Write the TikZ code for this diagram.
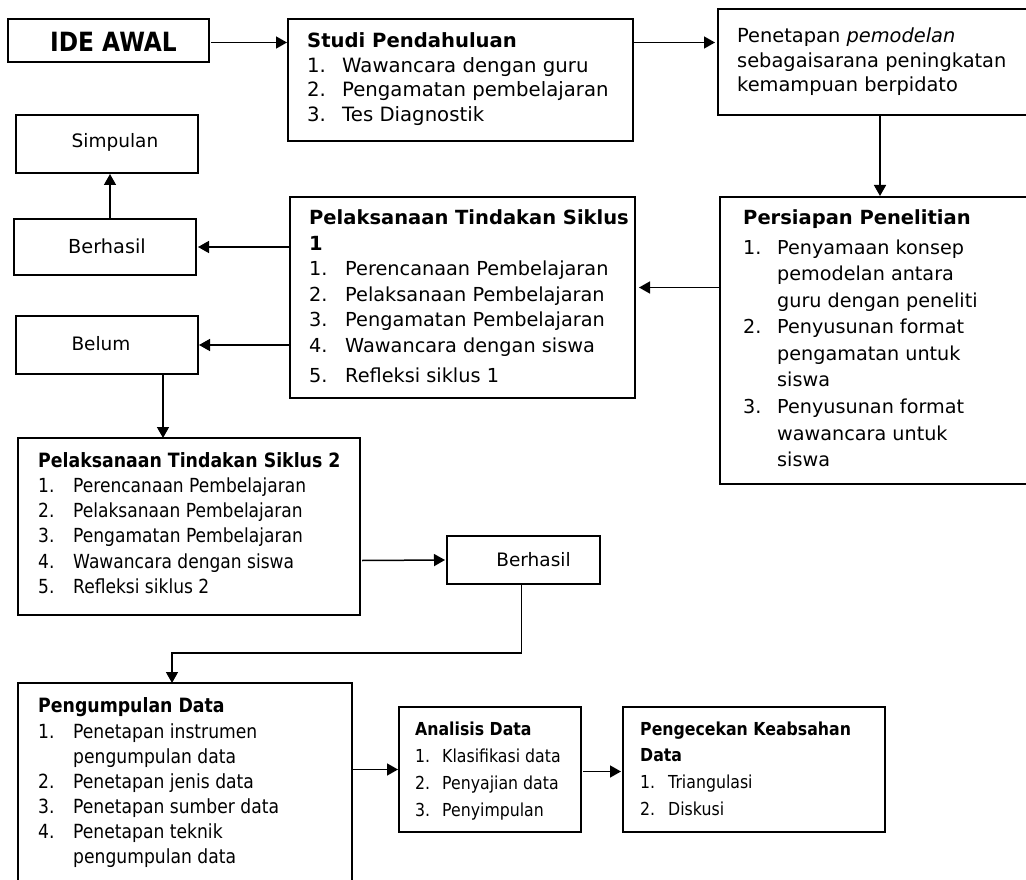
\documentclass[tikz,border=0pt]{standalone}
\usepackage{fontspec}
\setmainfont{DejaVu Sans}
\newfontfamily\cond[FakeStretch=0.88]{DejaVu Sans}
\usetikzlibrary{arrows.meta,calc}
\newcommand\itm[3]{\hbox{\makebox[#1][l]{#2}#3}}
\newcommand\fs[2]{\fontsize{#1}{#2}\selectfont}
\begin{document}
\begin{tikzpicture}[x=1pt,y=-1pt,
  box/.style={draw, line width=1.5pt, inner sep=0pt, outer sep=0pt, anchor=north west},
  txt/.style={inner sep=0pt, anchor=base west, text=black},
  lbl/.style={inner sep=0pt, text=black, font=\fs{18.5}{22}},
  arr/.style={line width=1.5pt, -{Triangle[length=11pt,width=12pt]}},
  ln/.style={line width=1.5pt}]
\useasboundingbox (0,0) rectangle (1026,880);
\clip (0,0) rectangle (1026,880);
\fill[white] (0,0) rectangle (1026,880);

% boxes
\node[box, minimum width=201pt, minimum height=43pt] (ide) at (8,19) {};
\node[box, minimum width=345pt, minimum height=122pt] (studi) at (288,19) {};
\node[box, minimum width=324pt, minimum height=106pt] (pen) at (718,9) {};
\node[box, minimum width=320pt, minimum height=287pt] (pers) at (720,197) {};
\node[box, minimum width=345pt, minimum height=201pt] (sik1) at (290,197) {};
\node[box, minimum width=182pt, minimum height=58pt] (simp) at (16,115) {};
\node[box, minimum width=182pt, minimum height=56pt] (berh) at (14,219) {};
\node[box, minimum width=182pt, minimum height=58pt] (belum) at (16,316) {};
\node[box, minimum width=342pt, minimum height=177pt] (sik2) at (18,438) {};
\node[box, minimum width=153pt, minimum height=48pt] (berh2) at (447,536) {};
\node[box, minimum width=334pt, minimum height=220pt] (peng) at (18,683) {};
\node[box, minimum width=182pt, minimum height=125pt] (anal) at (399,707) {};
\node[box, minimum width=262pt, minimum height=125pt] (cek) at (623,707) {};

% texts
\node[inner sep=0pt, font=\cond\bfseries\fs{26.5}{28}] (t-ide) at ($(ide.center)+(5,1)$) {IDE AWAL};

\node[txt] (t-studi) at (307,48) {\vtop{\fs{19.7}{24.5}%
  \hbox{\bfseries\fs{19.6}{24.5}Studi Pendahuluan}%
  \itm{35pt}{1.}{Wawancara dengan guru}%
  \itm{35pt}{2.}{Pengamatan pembelajaran}%
  \itm{35pt}{3.}{Tes Diagnostik}}};

\node[txt] (t-pen) at (737,43) {\vtop{\fs{19.4}{24.5}%
  \hbox{Penetapan \textit{pemodelan}}%
  \hbox{sebagaisarana peningkatan}%
  \hbox{kemampuan berpidato}}};

\node[txt] (t-pers) at (743,225) {\vtop{\fs{19.2}{26.6}%
  \hbox{\bfseries\fs{19.5}{26.6}Persiapan Penelitian}\vskip2.4pt
  \itm{34pt}{1.}{Penyamaan konsep}%
  \itm{34pt}{}{pemodelan antara}%
  \itm{34pt}{}{guru dengan peneliti}%
  \itm{34pt}{2.}{Penyusunan format}%
  \itm{34pt}{}{pengamatan untuk}%
  \itm{34pt}{}{siswa}%
  \itm{34pt}{3.}{Penyusunan format}%
  \itm{34pt}{}{wawancara untuk}%
  \itm{34pt}{}{siswa}}};

\node[txt] (t-sik1) at (309,225) {\vtop{\fs{19.3}{25.5}%
  \hbox{\bfseries\fs{19.5}{25.5}Pelaksanaan Tindakan Siklus}%
  \hbox{\bfseries\fs{19.5}{25.5}1}%
  \itm{36pt}{1.}{Perencanaan Pembelajaran}%
  \itm{36pt}{2.}{Pelaksanaan Pembelajaran}%
  \itm{36pt}{3.}{Pengamatan Pembelajaran}%
  \itm{36pt}{4.}{Wawancara dengan siswa}\vskip5pt
  \itm{36pt}{5.}{Refleksi siklus 1}}};

\node[lbl] (t-simp) at ($(simp.center)+(8,-2)$) {Simpulan};
\node[lbl, font=\fs{19.3}{22}] (t-berh) at ($(berh.center)+(2,-1)$) {Berhasil};
\node[lbl] (t-belum) at ($(belum.center)+(-6,-1)$) {Belum};
\node[lbl] (t-berh2) at ($(berh2.center)+(10,0)$) {Berhasil};

\node[txt] (t-sik2) at (38,467) {\vtop{\cond\fs{19.4}{25.3}%
  \hbox{\bfseries\fs{19.7}{25.3}Pelaksanaan Tindakan Siklus 2}%
  \itm{35pt}{1.}{Perencanaan Pembelajaran}%
  \itm{35pt}{2.}{Pelaksanaan Pembelajaran}%
  \itm{35pt}{3.}{Pengamatan Pembelajaran}%
  \itm{35pt}{4.}{Wawancara dengan siswa}%
  \itm{35pt}{5.}{Refleksi siklus 2}}};

\node[txt] (t-peng) at (38,712) {\vtop{\cond\fs{19.5}{25}%
  \hbox{\bfseries\fs{19.7}{25}Pengumpulan Data}\vskip1pt
  \itm{35pt}{1.}{Penetapan instrumen}%
  \itm{35pt}{}{pengumpulan data}%
  \itm{35pt}{2.}{Penetapan jenis data}%
  \itm{35pt}{3.}{Penetapan sumber data}%
  \itm{35pt}{4.}{Penetapan teknik}%
  \itm{35pt}{}{pengumpulan data}}};

\node[txt] (t-anal) at (415,735) {\vtop{\cond\fs{17.9}{27}%
  \hbox{\bfseries\fs{17.9}{27}Analisis Data}%
  \itm{27pt}{1.}{Klasifikasi data}%
  \itm{27pt}{2.}{Penyajian data}%
  \itm{27pt}{3.}{Penyimpulan}}};

\node[txt] (t-cek) at (640,735) {\vtop{\cond\fs{17.9}{26.7}%
  \hbox{\bfseries\fs{17.9}{26.7}Pengecekan Keabsahan}%
  \hbox{\bfseries\fs{17.9}{26.7}Data}%
  \itm{28pt}{1.}{Triangulasi}%
  \itm{28pt}{2.}{Diskusi}}};

% connectors
\draw[arr] ($(ide.east)+(2,2)$) -- ($(ide.east -| studi.west)+(-1,2)$);
\draw[arr] ($(ide.east -| studi.east)+(0,2)$) -- ($(ide.east -| pen.west)+(-3,2)$);
\draw[arr] (pen.south) -- ($(pers.north)+(0,-1)$);
\draw[arr] ($(pers.west)+(0,-53)$) -- ($(pers.west -| sik1.east)+(4,-53)$);
\draw[arr] (sik1.west |- berh.east) -- ($(berh.east)+(2,0)$);
\draw[arr] (sik1.west |- belum.east) -- ($(belum.east)+(1,0)$);
\draw[arr] ($(berh.north)+(5,0)$) -- ($(simp.south)+(3,1)$);
\coordinate (bdown) at ($(belum.south east)+(-35,0)$);
\draw[arr] (bdown) -- (bdown |- sik2.north);
\draw[arr] ($(sik2.east)+(2,34)$) -- ($(berh2.west)+(-2,0)$);
\coordinate (turn) at (172,653);
\draw[arr] ($(berh2.south)+(-2,0)$) |- (turn) -- (turn |- peng.north);
\draw[arr] (peng.east |- anal.west) -- ($(anal.west)+(-1,0)$);
\draw[arr] ($(anal.east)+(2,2)$) -- ($(cek.west)+(-2,2)$);
\end{tikzpicture}
\end{document}
